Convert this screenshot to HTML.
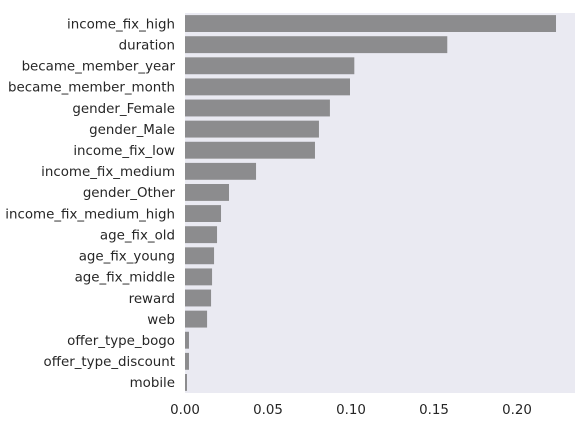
<!DOCTYPE html>
<html><head><meta charset="utf-8"><style>
html,body{margin:0;padding:0;background:#fff;}
svg{display:block;font-family:"DejaVu Sans","Liberation Sans",sans-serif;}
</style></head><body>
<svg id="chart" width="586" height="422">
<rect x="185" y="13" width="390" height="380" fill="#EAEAF2"/>
<g id="bars"></g><g id="ylabels"></g><g id="xticks"></g>
</svg>
<script>
const categories = ["income_fix_high","duration","became_member_year","became_member_month","gender_Female","gender_Male","income_fix_low","income_fix_medium","gender_Other","income_fix_medium_high","age_fix_old","age_fix_young","age_fix_middle","reward","web","offer_type_bogo","offer_type_discount","mobile"];
const importances = [0.2235,0.158,0.102,0.0994,0.0873,0.0807,0.0783,0.0428,0.0265,0.0217,0.0193,0.0175,0.0163,0.0157,0.0133,0.0024,0.0024,0.0012];
const xTicks = [0,0.05,0.1,0.15,0.2];
const xTickLabels = ["0.00","0.05","0.10","0.15","0.20"];
const NS="http://www.w3.org/2000/svg";
const x0=185, pxPerUnit=1660, plotTop=13, plotH=380;
const band = plotH/categories.length;
const xScale = v => x0 + v*pxPerUnit;
const yScale = i => plotTop + i*band;
const barsG=document.getElementById('bars'), ylG=document.getElementById('ylabels'), xtG=document.getElementById('xticks');
categories.forEach((c,i)=>{
  const r=document.createElementNS(NS,'rect');
  r.setAttribute('x',x0);
  r.setAttribute('y',yScale(i)+band*0.1);
  r.setAttribute('width',xScale(importances[i])-x0);
  r.setAttribute('height',band*0.8);
  r.setAttribute('fill','#8c8c8e');
  
  
  barsG.appendChild(r);
  const t=document.createElementNS(NS,'text');
  t.setAttribute('x',175);
  t.setAttribute('y',yScale(i)+band/2+4.8);
  t.setAttribute('text-anchor','end');
  t.setAttribute('font-size','13.4');
  t.setAttribute('fill','#262626');
  t.textContent=c;
  
  
  ylG.appendChild(t);
});
xTicks.forEach((v,i)=>{
  const t=document.createElementNS(NS,'text');
  t.setAttribute('x',xScale(v));
  t.setAttribute('y',414);
  t.setAttribute('text-anchor','middle');
  t.setAttribute('font-size','13.4');
  t.setAttribute('fill','#262626');
  t.textContent=xTickLabels[i];
  
  
  xtG.appendChild(t);
});
</script>
</body></html>
